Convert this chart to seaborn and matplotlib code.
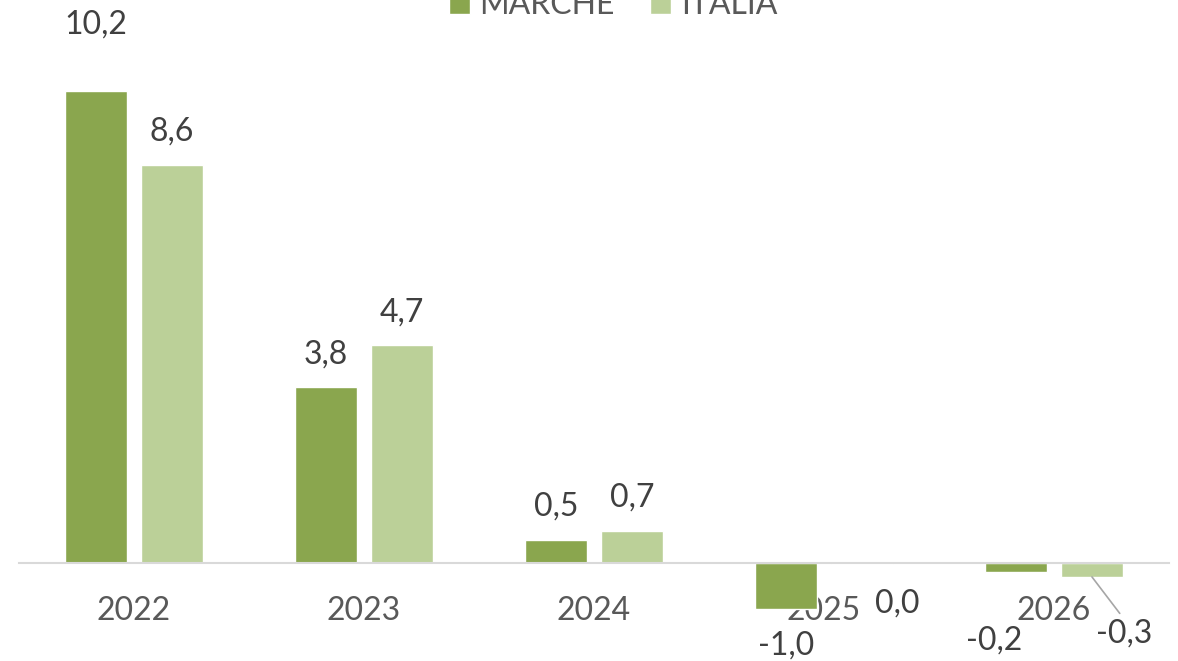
import pandas as pd
import matplotlib
matplotlib.use("Agg")
import matplotlib.pyplot as plt
import seaborn as sns

# dati
years = ["2022", "2023", "2024", "2025", "2026"]
marche = [10.2, 3.8, 0.5, -1.0, -0.2]
italia = [8.6, 4.7, 0.7, -0.02, -0.3]
series = ["MARCHE", "ITALIA"]
colors = ["#8AA64E", "#BBD098"]

df = pd.DataFrame({
    "anno": years * 2,
    "valore": marche + italia,
    "serie": [series[0]] * len(years) + [series[1]] * len(years),
})

sns.set_style("white")
plt.rcParams["font.family"] = ["Lato", "DejaVu Sans"]

fig = plt.figure(figsize=(11.78, 6.61), dpi=100)
ax = fig.add_axes([19 / 1178, 0, 1150 / 1178, 1])

sns.barplot(data=df, x="anno", y="valore", hue="serie", palette=colors,
            saturation=1, width=0.66, gap=0.184, ax=ax, legend=True, zorder=2)

ax.set_xlim(-0.5, 4.5)
ax.set_ylim(-98 / 46.3, 563 / 46.3)
ax.set_xlabel("")
ax.set_ylabel("")
ax.set_yticks([])
for s in ["left", "right", "top"]:
    ax.spines[s].set_visible(False)
ax.spines["bottom"].set_position(("data", 0))
ax.spines["bottom"].set_color("#D9D9D9")
ax.spines["bottom"].set_linewidth(1.5)
ax.tick_params(axis="x", length=0, pad=24, labelsize=23, labelcolor="#595959")

# etichette valori (spostamenti in pixel come nell'originale)
offsets = {
    (0, 0): (0, 66), (1, 3): (35, -40), (0, 4): (-22, -68), (1, 4): (32, -57),
}
for j, (name, vals) in enumerate(zip(series, [marche, italia])):
    cont = ax.containers[j]
    for i, (bar, v) in enumerate(zip(cont, vals)):
        x = bar.get_x() + bar.get_width() / 2
        default = (0, 33) if v >= 0 else (0, -36)
        dx, dy = offsets.get((j, i), default)
        txt = f"{round(v, 1) + 0.0:.1f}".replace(".", ",")
        kw = {}
        if (j, i) == (1, 4):
            kw["arrowprops"] = dict(arrowstyle="-", color="#A6A6A6", lw=1.2,
                                    relpos=(0.5, 1.0), shrinkA=2, shrinkB=0)
        ax.annotate(txt, xy=(x, v), xytext=(dx, dy), textcoords="offset pixels",
                    ha="center", va="center", fontsize=23, color="#404040", **kw)

handles, labels = ax.get_legend_handles_labels()
ax.get_legend().remove()
fig.legend(handles, labels, loc="center", bbox_to_anchor=(613 / 1178, 1 - 5.5 / 661),
           ncol=2, frameon=False, fontsize=23, labelcolor="#595959",
           handlelength=0.66, handleheight=0.66, handletextpad=0.31,
           columnspacing=1.1, borderpad=0)

fig.savefig("out.png", dpi=100)
